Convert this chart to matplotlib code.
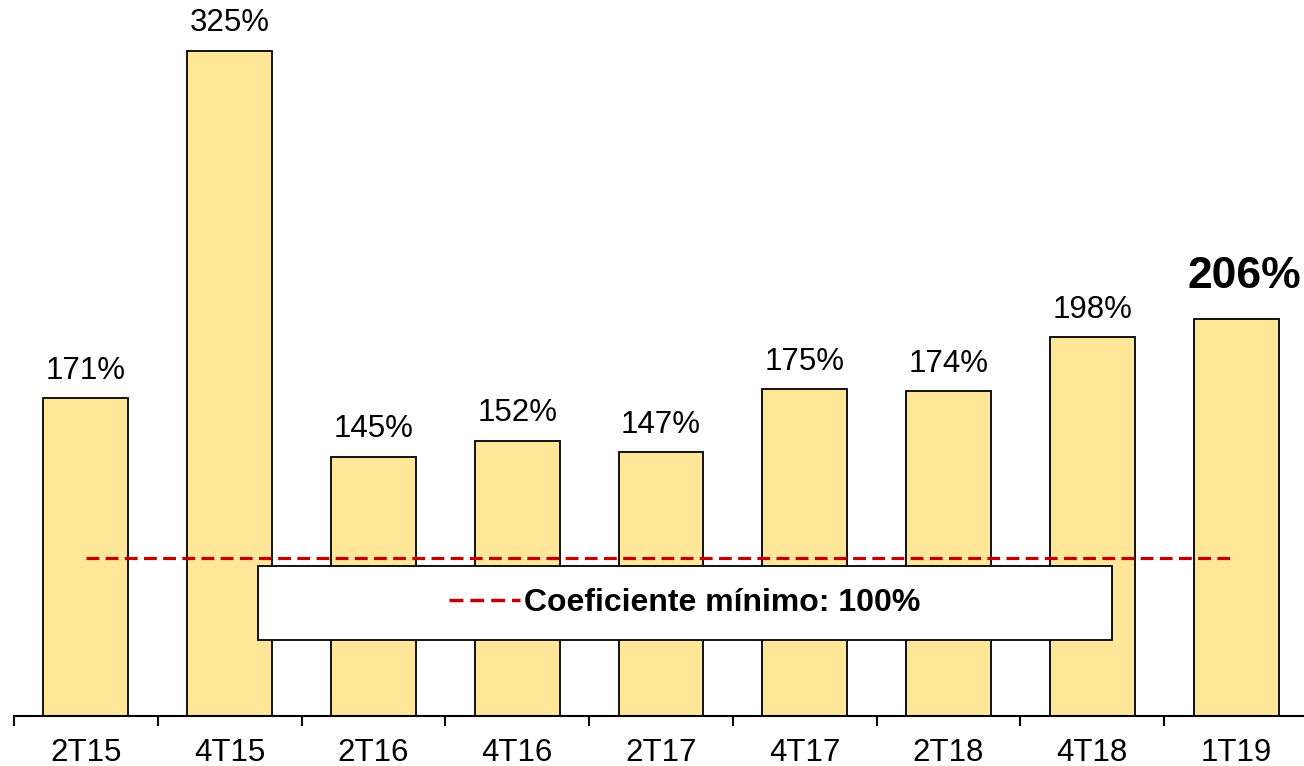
import matplotlib.pyplot as plt
from matplotlib.patches import Rectangle
from matplotlib.lines import Line2D
import numpy as np

plt.rcParams['font.family'] = ['Liberation Sans', 'DejaVu Sans']

quarters = ['2T15', '4T15', '2T16', '4T16', '2T17', '4T17', '2T18', '4T18', '1T19']
coef = [171, 325, 145, 152, 147, 175, 174, 198, 206]
minimo = 100

W, H = 1304, 766
fig = plt.figure(figsize=(W / 100, H / 100), dpi=100)
ax = fig.add_axes([14 / W, 1 - 716 / H, (1308 - 14) / W, 716 / H])

x = np.arange(len(quarters))
ax.bar(x, coef, width=0.59, bottom=0, color='#FFE699', edgecolor='black', linewidth=1.3, zorder=2)
ax.hlines(minimo, x[0], x[-1], colors='#C00000', linewidth=2.3, linestyles=(0, (4, 2)), zorder=3)

for i, v in enumerate(coef):
    if i == len(coef) - 1:
        ax.annotate(f'{v}%', (x[i], v), xytext=(6, 16), textcoords='offset points',
                    ha='center', va='bottom', fontsize=32, fontweight='bold')
    else:
        ax.annotate(f'{v}%', (x[i], v), xytext=(0, 9), textcoords='offset points',
                    ha='center', va='bottom', fontsize=22.5)

ax.set_xlim(-0.5, len(quarters) - 0.5)
ax.set_ylim(30, 347.5)
ax.set_xticks(x)
ax.set_xticklabels(quarters, fontsize=22.5)
ax.set_xticks(np.arange(-0.5, len(quarters)), minor=True)
ax.tick_params(axis='x', which='major', length=0, pad=16)
ax.tick_params(axis='x', which='minor', length=7, width=1.5, direction='out')
ax.set_yticks([])
for s in ['left', 'right', 'top']:
    ax.spines[s].set_visible(False)
ax.spines['bottom'].set_linewidth(1.5)

# legend box
bx0, by0, bx1, by1 = 258, 566, 1112, 640
rect = Rectangle((bx0 / W, 1 - by1 / H), (bx1 - bx0) / W, (by1 - by0) / H,
                 transform=fig.transFigure, facecolor='white', edgecolor='black',
                 linewidth=1.3, zorder=5)
fig.patches.append(rect)
handle = Line2D([], [], color='#C00000', linewidth=2.5, linestyle=(0, (4, 2)))
fig.legend([handle], ['Coeficiente mínimo: 100%'], loc='center',
           bbox_to_anchor=((bx0 + bx1) / 2 / W, 1 - (by0 + by1) / 2 / H),
           frameon=False, prop={'size': 23, 'weight': 'bold'},
           handlelength=2.2, handletextpad=0.15)

fig.savefig('out.png', dpi=100)
